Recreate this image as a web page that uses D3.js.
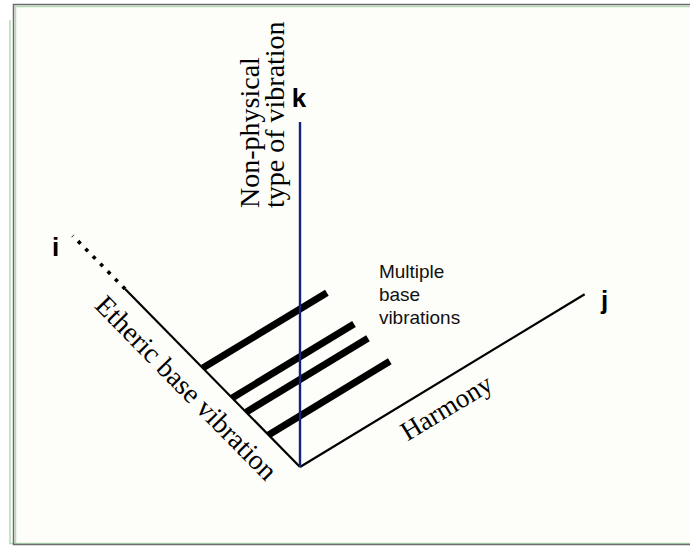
<!DOCTYPE html>
<html>
<head>
<meta charset="utf-8">
<script src="https://cdn.jsdelivr.net/npm/d3@7"></script>
<style>
  html, body { margin: 0; padding: 0; background: #fff; }
  svg { display: block; }
</style>
</head>
<body>
<svg id="chart"></svg>
<script>
// axis names and titles
const axisNames = ['i', 'j', 'k'];
const iTitle = 'Etheric base vibration';
const jTitle = 'Harmony';
const kTitle = ['Non-physical', 'type of vibration'];
const noteLines = ['Multiple', 'base', 'vibrations'];

// axis extents (units along each axis)
const iSolidEnd = 100;
const iDottedEnd = 130;
const jEnd = 100;
const kEnd = 100;

// base vibrations: position on i axis, length along j
const barPositions = [55.6, 38.8, 30.8, 18.0];
const barLengths = [43.6, 42.8, 42.8, 42.6];

const width = 690, height = 546;
const origin = [300, 467];

const iScale = d3.scaleLinear().domain([0, 100]).range([0, 249.5]);
const jScale = d3.scaleLinear().domain([0, 100]).range([0, 333]);
const kScale = d3.scaleLinear().domain([0, 100]).range([0, 345]);

const iAngle = 225.5, jAngle = -31.26, kAngle = -90;
const rad = Math.PI / 180;
const iDir = [Math.cos(iAngle * rad), Math.sin(iAngle * rad)];
const jDir = [Math.cos(jAngle * rad), Math.sin(jAngle * rad)];
const kDir = [Math.cos(kAngle * rad), Math.sin(kAngle * rad)];

function project(i, j, k) {
  const a = iScale(i), b = jScale(j), c = kScale(k);
  return [origin[0] + a * iDir[0] + b * jDir[0] + c * kDir[0],
          origin[1] + a * iDir[1] + b * jDir[1] + c * kDir[1]];
}

const line = d3.line();

const svg = d3.select('#chart').attr('width', width).attr('height', height);

// frame
svg.append('rect').attr('x', 13).attr('y', 4).attr('width', width).attr('height', 541)
  .attr('fill', '#fdfdf9');
svg.append('path').attr('fill', 'none').attr('stroke', '#b5dcb5').attr('stroke-width', 1.5)
  .attr('d', `M${width},6.5 H15.5 V543 M10,20 V543.5 H${width}`);
svg.append('path').attr('fill', 'none').attr('stroke', '#6b6b6b').attr('stroke-width', 1.5)
  .attr('d', `M${width},4.5 H13.5 V544.5 H${width}`);

const g = svg.append('g');

// i axis: solid then dotted
g.append('path').attr('d', line([project(0, 0, 0), project(iSolidEnd, 0, 0)]))
  .attr('stroke', '#000').attr('stroke-width', 2.2).attr('fill', 'none');
g.append('path').attr('d', line([project(iSolidEnd, 0, 0), project(iDottedEnd, 0, 0)]))
  .attr('stroke', '#000').attr('stroke-width', 3.6).attr('stroke-dasharray', '3.6 7')
  .attr('stroke-dashoffset', 0).attr('fill', 'none');

// j axis
g.append('path').attr('d', line([project(0, 0, 0), project(0, jEnd, 0)]))
  .attr('stroke', '#000').attr('stroke-width', 2.2).attr('fill', 'none');

// base vibrations
g.append('g').selectAll('path').data(barPositions).enter().append('path')
  .attr('d', (d, n) => line([project(d, 0, 0), project(d, barLengths[n], 0)]))
  .attr('stroke', '#000').attr('stroke-width', 7).attr('fill', 'none');

// k axis
g.append('path').attr('d', line([project(0, 0, 0), project(0, 0, kEnd)]))
  .attr('stroke', '#14237f').attr('stroke-width', 2.4).attr('fill', 'none');

// axis titles
const serif = '"Liberation Serif", "Times New Roman", serif';
const sans = '"Liberation Sans", Arial, Helvetica, sans-serif';

const iStart = project(103.8, 0, 0);
g.append('text').attr('transform', `translate(${iStart}) rotate(${iAngle - 180})`)
  .attr('x', 0).attr('y', 35).attr('font-family', serif).attr('font-size', 28)
  .text(iTitle);

g.append('text').attr('transform', `translate(${origin}) rotate(${jAngle})`)
  .attr('x', 105).attr('y', 34).attr('font-family', serif).attr('font-size', 27)
  .text(jTitle);

g.append('g').attr('transform', `translate(${origin}) rotate(${kAngle})`)
  .selectAll('text').data(kTitle).enter().append('text')
  .attr('x', 259).attr('y', (d, n) => -41 + n * 25)
  .attr('font-family', serif).attr('font-size', 28)
  .text(d => d);

// axis letters
const iEnd = project(iDottedEnd, 0, 0), jEndPt = project(0, jEnd, 0), kEndPt = project(0, 0, kEnd);
const letterPos = [[iEnd[0] - 17, iEnd[1] + 20], [jEndPt[0] + 20, jEndPt[1] + 15], [kEndPt[0] - 1, kEndPt[1] - 15]];
g.append('g').selectAll('text').data(axisNames).enter().append('text')
  .attr('x', (d, n) => letterPos[n][0]).attr('y', (d, n) => letterPos[n][1])
  .attr('text-anchor', 'middle').attr('font-family', sans).attr('font-weight', 'bold')
  .attr('font-size', 26).text(d => d);

// note
const barTop = project(barPositions[0], barLengths[0], 0);
g.append('g').selectAll('text').data(noteLines).enter().append('text')
  .attr('x', barTop[0] + 52).attr('y', (d, n) => barTop[1] - 15 + n * 23)
  .attr('font-family', sans).attr('font-size', 19).attr('fill', '#111')
  .text(d => d);
</script>
</body>
</html>
